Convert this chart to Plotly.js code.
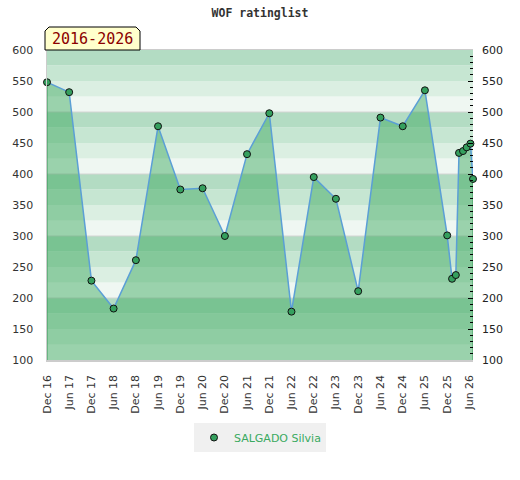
<!DOCTYPE html>
<html>
<head>
<meta charset="utf-8">
<script src="https://cdn.plot.ly/plotly-3.0.1.min.js"></script>
<style>html,body{margin:0;padding:0;background:#fff;}#chart{width:520px;height:480px;}</style>
</head>
<body>
<div id="chart"></div>
<script>
var playerName = 'SALGADO Silvia';
var chartTitle = 'WOF ratinglist';
var periodLabel = '2016-2026';
var dates = ['2016-12-01','2017-06-01','2017-12-01','2018-06-01','2018-12-01','2019-06-01','2019-12-01','2020-06-01','2020-12-01','2021-06-01','2021-12-01','2022-06-01','2022-12-01','2023-06-01','2023-12-01','2024-06-01','2024-12-01','2025-06-01','2025-12-01','2026-01-10','2026-02-10','2026-03-08','2026-04-10','2026-05-10','2026-06-10','2026-07-01'];
var ratings = [548, 532, 228, 183, 261, 477, 375, 377, 300, 432, 498, 178, 395, 360, 211, 491, 477, 535, 301, 231, 237, 434, 437, 443, 449, 392];
var tickDates = ['2016-12-01','2017-06-01','2017-12-01','2018-06-01','2018-12-01','2019-06-01','2019-12-01','2020-06-01','2020-12-01','2021-06-01','2021-12-01','2022-06-01','2022-12-01','2023-06-01','2023-12-01','2024-06-01','2024-12-01','2025-06-01','2025-12-01','2026-06-01'];
var tickLabels = ['Dec 16','Jun 17','Dec 17','Jun 18','Dec 18','Jun 19','Dec 19','Jun 20','Dec 20','Jun 21','Dec 21','Jun 22','Dec 22','Jun 23','Dec 23','Jun 24','Dec 24','Jun 25','Dec 25','Jun 26'];
var yMin = 100, yMax = 600;

var W = 520, H = 480, ML = 47, MR = 47, MT = 50, MB = 120;
var PW = W - ML - MR, PH = H - MT - MB;
function px(x){ return (x - ML) / PW; }
function py(y){ return (H - MB - y) / PH; }

var stripeColors = ['#b3dcc3', '#c6e6d2', '#dbefe2', '#eff7f2'];
var shapes = [];
for (var b = yMin; b < yMax; b += 25) {
  var idx = ((yMax - (b + 25)) / 25) % 4;
  shapes.push({type:'rect', xref:'paper', yref:'y', x0:0, x1:1, y0:b, y1:b+25,
    fillcolor: stripeColors[idx], line:{width:0}, layer:'below'});
}
for (var g = yMin + 100; g < yMax; g += 100) {
  shapes.push({type:'line', xref:'paper', yref:'y', x0:0, x1:1, y0:g, y1:g,
    line:{color:'#d4d4d4', width:1}, layer:'below'});
}
// tab title box with chamfered corners
var L = px(45), R = px(140), Lc = px(49), Rc = px(136), T = py(27), Tc = py(31), B = py(50);
shapes.push({type:'path', xref:'paper', yref:'paper',
  path: 'M '+L+' '+B+' L '+L+' '+Tc+' L '+Lc+' '+T+' L '+Rc+' '+T+' L '+R+' '+Tc+' L '+R+' '+B+' Z',
  fillcolor:'#ffffcc', line:{color:'#000000', width:1}, layer:'above'});

var n = dates.length;
var traces = [
  {x: dates, y: ratings, type:'scatter', mode:'lines', fill:'tozeroy',
   fillcolor:'rgba(52,164,86,0.45)', line:{color:'#5b9fd6', width:1.5}, showlegend:false, hoverinfo:'skip'},
  {x: [dates[0], dates[0]], y: [yMin, ratings[0]], type:'scatter', mode:'lines',
   line:{color:'#3a9a5a', width:1}, showlegend:false, hoverinfo:'skip'},
  {x: [dates[n-1], dates[n-1]], y: [yMin, ratings[n-1]], type:'scatter', mode:'lines',
   line:{color:'#3a9a5a', width:1}, showlegend:false, hoverinfo:'skip'},
  {x: dates, y: ratings, type:'scatter', mode:'markers', name: playerName, yaxis:'y2',
   cliponaxis:false,
   marker:{size:7, color:'#35a05e', line:{color:'#111111', width:1}}}
];

var layout = {
  width: W, height: H,
  margin: {l:ML, r:MR, t:MT, b:MB, pad:0},
  paper_bgcolor:'#ffffff', plot_bgcolor:'#ffffff',
  title: {text: chartTitle, x:0.5, xanchor:'center', y: 1 - 13/H, yanchor:'middle',
    font:{family:'DejaVu Sans Mono', size:11.5, color:'#333333', weight:'bold'}},
  xaxis: {type:'date', range:[dates[0], dates[n-1]], tickmode:'array', tickvals: tickDates, ticktext: tickLabels,
    tickangle:-90, ticks:'', showgrid:false, zeroline:false, showline:true, linecolor:'#cccccc', linewidth:1.5, mirror:true,
    ticklabelstandoff: 9,
    tickfont:{family:'DejaVu Sans', size:11, color:'#333333'}},
  yaxis: {range:[yMin, yMax], dtick:50, tick0:100, ticks:'', showgrid:false, zeroline:false,
    showline:true, linecolor:'#cccccc', linewidth:1.5, ticklabelstandoff: 10,
    tickfont:{family:'DejaVu Sans', size:11, color:'#333333'}},
  yaxis2: {range:[yMin, yMax], overlaying:'y', side:'right', dtick:50, tick0:100,
    ticks:'inside', ticklen:5, tickcolor:'#000000', tickwidth:1, showgrid:false, zeroline:false, showline:false,
    minor:{dtick:10, ticks:'inside', ticklen:3, tickcolor:'#000000', tickwidth:1, showgrid:false},
    ticklabelstandoff: 8,
    tickfont:{family:'DejaVu Sans', size:11, color:'#222222'}},
  shapes: shapes,
  annotations: [{xref:'paper', yref:'paper', x: px(92), y: py(38.5), xanchor:'center', yanchor:'middle',
    text: periodLabel, showarrow:false, font:{family:'DejaVu Sans Mono', size:15, color:'#8b0000'}}],
  showlegend: true,
  legend: {orientation:'h', x:0.5, xanchor:'center', y: py(423), yanchor:'top',
    bgcolor:'#f0f0f0', borderwidth:0, itemwidth:30,
    font:{family:'DejaVu Sans', size:11, color:'#3aaa60'}}
};

Plotly.newPlot('chart', traces, layout, {displayModeBar:false, staticPlot:true});
</script>
</body>
</html>
